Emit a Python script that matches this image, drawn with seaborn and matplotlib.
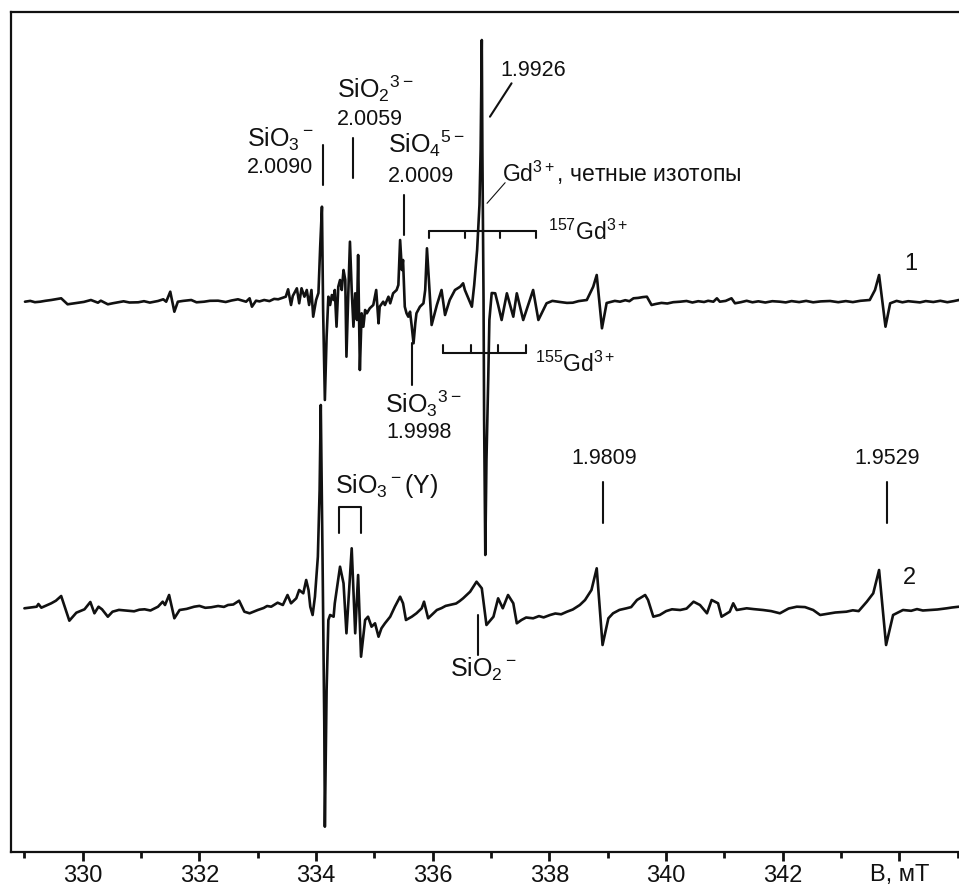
import matplotlib
matplotlib.use("Agg")
import matplotlib.pyplot as plt
import seaborn as sns
import pandas as pd

# EPR spectra, field in mT, signal in arb. units (relative to own baseline)
field_1 = [329.01, 329.27, 329.46, 329.63, 329.74, 329.92, 330.14, 330.26, 330.31, 330.43,
           330.61, 330.95, 331.29, 331.38, 331.43, 331.50, 331.57, 331.63, 331.86, 332.08,
           332.32, 332.66, 332.80, 332.86, 332.90, 332.97, 333.11, 333.35, 333.48, 333.52,
           333.57, 333.60, 333.67, 333.71, 333.75, 333.80, 333.84, 333.88, 333.92, 333.95,
           334.00, 334.04, 334.07, 334.10, 334.12, 334.15, 334.18, 334.21, 334.24, 334.27,
           334.30, 334.32, 334.35, 334.38, 334.41, 334.44, 334.47, 334.50, 334.52, 334.55,
           334.58, 334.61, 334.64, 334.67, 334.70, 334.72, 334.75, 334.78, 334.81, 334.84,
           334.87, 334.92, 334.98, 335.03, 335.07, 335.09, 335.15, 335.18, 335.24, 335.27,
           335.32, 335.38, 335.41, 335.44, 335.47, 335.49, 335.52, 335.55, 335.58, 335.61,
           335.64, 335.67, 335.70, 335.72, 335.78, 335.84, 335.87, 335.90, 335.98, 336.07,
           336.15, 336.21, 336.29, 336.38, 336.47, 336.52, 336.55, 336.61, 336.67, 336.71,
           336.76, 336.80, 336.82, 336.84, 336.85, 336.87, 336.88, 336.90, 336.92, 336.95,
           336.97, 337.01, 337.07, 337.12, 337.18, 337.27, 337.38, 337.44, 337.55, 337.72,
           337.81, 337.95, 338.18, 338.40, 338.64, 338.75, 338.81, 338.90, 338.98, 339.21,
           339.44, 339.67, 339.75, 340.24, 340.81, 340.87, 340.92, 341.12, 341.18, 341.95,
           342.81, 343.49, 343.58, 343.65, 343.76, 343.84, 344.24, 345.02,
           # baseline wiggles
           329.10, 329.18, 329.36, 329.83, 330.02, 330.52, 330.70, 330.80, 331.05, 331.15,
           331.72, 331.95, 332.18, 332.45, 332.55, 333.03, 333.20, 333.28, 338.05, 338.30,
           338.50, 339.05, 339.12, 339.30, 339.37, 339.52, 339.60, 339.82, 339.92, 340.02,
           340.12, 340.35, 340.45, 340.55, 340.65, 340.72, 341.02, 341.28, 341.38, 341.48,
           341.58, 341.70, 341.82, 342.05, 342.15, 342.28, 342.40, 342.52, 342.65, 342.95,
           343.08, 343.20, 343.33, 343.95, 344.05, 344.15, 344.35, 344.45, 344.58, 344.70,
           344.82, 344.93]
signal_1 = [0, 0, 1.7, 3.4, -2.6, -1, 1.7, -1, 1, -2.6,
            -0.6, -0.6, 0.7, 2.4, 0, 10, -10, 0, 1.7, 0,
            1, 2.4, 0, 3.4, -5, 1, 1.7, 2.4, 5, 12.4,
            -3.3, 5.7, 13.4, -1.6, 13.4, 5, 11.7, -3.3, 11.7, -15,
            1.7, 8.7, 55, 95, -8.3, -98.3, -35, 5, -3.3, 6.7,
            1.7, 11.7, -25, 15, 21.7, 11.7, 31.7, 21.7, -55, 5,
            60, 11.7, -25, 8.4, -18.3, 46.7, -68.3, -11.6, -25, -8.3,
            -11.6, -6.6, -3.3, 11.7, -21.6, -5, 0, -3.3, 5, -1.6,
            8.4, 11.7, 16.7, 61.7, 31.7, 41.7, -5, -11.6, -15, -10,
            -25, -41.6, -21.6, -11.6, -5, -1.6, 11.7, 53.4, -23.3, -3.3,
            11.7, -13.3, 1.7, 11.7, 15, 18.4, 11.7, 3.4, -5, 16.7,
            51.7, 96.7, 151.7, 261.7, 151.7, 1.7, -118.3, -253.3, -158.3, -78.3,
            -18.3, 8.7, 8.4, -3.3, -18.3, 8.4, -15, 8.4, -18.3, 11.7,
            -18.3, -1.6, -0.3, -1, 1.7, 15, 26.7, -26.6, -1.3, 0,
            3.4, 5, -3.3, 0, 0, 3.4, 0, 3.4, -1.6, 0,
            0.7, 1.7, 11.7, 26.7, -25, -1.6, 0, 1.7,
            0.8, -0.5, 0.9, -1.8, -0.2, -1.5, 0.4, -0.8, 0.5, -0.9,
            0.8, -0.6, 0.9, -0.3, 1.2, 0.3, 0.6, 2.8, 0.8, -1.2,
            0.6, -0.3, 0.8, 1.5, 0.5, 3.8, 4.6, -2.3, -1.2, -1.8,
            -0.5, 0.7, -0.8, 0.5, -0.3, 0.9, 0.8, -0.5, 0.9, -0.6,
            0.4, -0.8, 0.5, -0.7, 0.6, -0.4, 0.8, -0.6, 0.3, -0.5,
            0.6, -0.4, 0.9, 0.8, -0.6, 0.5, -0.7, 0.6, -0.3, 0.9,
            -0.5, 0.6]

field_2 = [329.00, 329.21, 329.24, 329.29, 329.46, 329.54, 329.63, 329.77, 329.89, 330.03,
           330.13, 330.20, 330.27, 330.33, 330.43, 330.51, 330.77, 331.06, 331.29, 331.37,
           331.41, 331.48, 331.57, 331.66, 331.91, 332.20, 332.49, 332.68, 332.77, 332.86,
           333.00, 333.23, 333.34, 333.43, 333.51, 333.57, 333.66, 333.71, 333.78, 333.83,
           333.87, 333.90, 333.94, 333.98, 334.03, 334.06, 334.08, 334.11, 334.14, 334.15,
           334.18, 334.21, 334.24, 334.30, 334.32, 334.41, 334.47, 334.52, 334.61, 334.67,
           334.72, 334.77, 334.84, 334.89, 334.95, 335.01, 335.07, 335.12, 335.18, 335.27,
           335.35, 335.44, 335.49, 335.54, 335.64, 335.72, 335.81, 335.85, 335.92, 336.07,
           336.29, 336.52, 336.64, 336.75, 336.84, 336.92, 337.04, 337.12, 337.20, 337.29,
           337.38, 337.44, 337.52, 337.72, 338.01, 338.30, 338.52, 338.61, 338.72, 338.81,
           338.91, 339.01, 339.09, 339.32, 339.50, 339.64, 339.69, 339.78, 339.89, 340.24,
           340.47, 340.58, 340.70, 340.78, 340.89, 340.95, 341.09, 341.15, 341.21, 341.38,
           341.66, 341.95, 342.24, 342.52, 342.64, 342.81, 343.09, 343.44, 343.55, 343.65,
           343.77, 343.89, 344.06, 344.52, 344.81, 345.02,
           # baseline wiggles
           330.62, 330.88, 330.97, 331.16, 331.78, 332.00, 332.10, 332.32, 332.42, 332.58,
           333.10, 333.16, 336.15, 336.22, 336.40, 336.46, 337.60, 337.82, 337.90, 338.10,
           338.20, 338.40, 339.20, 339.40, 340.00, 340.10, 340.35, 341.50, 341.80, 342.10,
           342.38, 342.90, 343.20, 343.30, 344.20, 344.30, 344.40, 344.65, 344.90]
signal_2 = [0, 1.6, 4.3, 0.6, 5, 7.6, 12.3, -12.4, -4.4, -1,
            6.3, -5, 1.6, -1, -8.4, -3.4, -2.4, -1, 1.6, 6.6,
            3.3, 13.3, -10, -1.7, 1.6, 1, 3.3, 7.6, -3.4, -5,
            -1.7, 1.6, 5.6, 3.3, 13.3, 5, 10, 18.3, 15, 28.3,
            18.3, 1.6, -6.7, 11.6, 51.6, 118.3, 203.3, 51.6, -115, -218.4,
            -81.7, -11.7, -6.7, -8.4, 5, 41.6, 25, -25, 60, -25,
            33.3, -48.4, -11.7, -8.4, -18.4, -15, -28.4, -20, -15, -8.4,
            1.6, 11.6, 5, -11.7, -8.4, -5, 0, 6.6, -10, -1.7,
            3.3, 10, 16.6, 26.6, 20, -16.7, -8.4, 10, 0, 13.3,
            5, -15, -11.7, -10, -6.7, -3.4, 3.3, 8.3, 18.3, 40,
            -36.7, -10, -5, 0, 8.3, 13.3, 8.3, -8.4, -6.7, -1.7,
            6.6, 3.3, -5, 8.3, 5, -8.4, -3.4, 5, -1.7, 0,
            -1.7, -5, 1.6, -1.7, -6.7, -5, -3.4, 6.6, 15, 38.3,
            -36.7, -6.7, -1.7, -1.7, 0, 1.6,
            -1.6, -3.0, -1.4, -2.2, -0.6, 2.4, 0.5, 2.3, 1.4, 3.8,
            0.3, 2.3, 0.2, 2.4, 4.8, 7.2, -9.2, -7.8, -9.1, -5.2,
            -6.0, -1.2, -1.6, 1.2, -2.8, -1.0, -0.3, -0.8, -2.8, -0.2,
            1.2, -4.2, -2.0, -2.8, -2.5, -0.8, -2.2, -1.2, 0.8]

# vertical shift of the two traces
offset_1 = 550.3
offset_2 = 243.7

major_ticks = [330, 332, 334, 336, 338, 340, 342, 344]
major_labels = ["330", "332", "334", "336", "338", "340", "342", "B, мТ"]
minor_ticks = [329, 331, 333, 335, 337, 339, 341, 343, 345]

sns.set_style("ticks")
plt.rcParams["font.family"] = ["Liberation Sans", "DejaVu Sans"]
plt.rcParams["mathtext.fontset"] = "custom"
plt.rcParams["mathtext.rm"] = "Liberation Sans"
plt.rcParams["mathtext.it"] = "Liberation Sans:italic"
plt.rcParams["mathtext.bf"] = "Liberation Sans:bold"

df = pd.concat([
    pd.DataFrame({"field": field_1, "signal": [s + offset_1 for s in signal_1], "spectrum": 1}),
    pd.DataFrame({"field": field_2, "signal": [s + offset_2 for s in signal_2], "spectrum": 2}),
])
df = df.sort_values(["spectrum", "field"])

ink = "#111111"
fig = plt.figure(figsize=(9.59, 8.92), dpi=100)
ax = fig.add_axes([11 / 959, 40 / 892, 948 / 959, 840 / 892])

sns.lineplot(data=df, x="field", y="signal", units="spectrum", estimator=None,
             sort=False, color=ink, lw=1.9, legend=False, ax=ax)

ax.set_xlim(328.77, 345.02)
ax.set_ylim(0, 840)
ax.set_xlabel("")
ax.set_ylabel("")
ax.set_yticks([])
ax.set_xticks(major_ticks)
ax.set_xticklabels(major_labels)
ax.set_xticks(minor_ticks, minor=True)
ax.tick_params(axis="x", which="major", length=6.5, width=2, direction="out",
               labelsize=17, pad=2.5, colors=ink)
ax.tick_params(axis="x", which="minor", length=4, width=2, direction="out", colors=ink)
ax.spines["right"].set_visible(False)
for s in ["left", "top", "bottom"]:
    ax.spines[s].set_linewidth(1.6)
    ax.spines[s].set_color(ink)

# labels
big = 18
num = 15.5
ax.text(332.81, 705, r"SiO$_3{}^-$", fontsize=big, color=ink)
ax.text(332.81, 678.7, "2.0090", fontsize=num, color=ink)
ax.text(334.35, 753.7, r"SiO$_2{}^{3-}$", fontsize=big, color=ink)
ax.text(334.35, 727, "2.0059", fontsize=num, color=ink)
ax.text(335.23, 699, r"SiO$_4{}^{5-}$", fontsize=big, color=ink)
ax.text(335.23, 670.3, "2.0009", fontsize=num, color=ink)
ax.text(335.18, 439, r"SiO$_3{}^{3-}$", fontsize=big, color=ink)
ax.text(335.21, 414, "1.9998", fontsize=num, color=ink)
ax.text(337.16, 776, "1.9926", fontsize=num, color=ink)
ax.text(337.18, 670.3, r"Gd$^{3+}$, четные изотопы", fontsize=16.5, color=ink)
ax.text(337.97, 612, r"$^{157}$Gd$^{3+}$", fontsize=16.5, color=ink)
ax.text(337.75, 480, r"$^{155}$Gd$^{3+}$", fontsize=16.5, color=ink)
ax.text(344.09, 582, "1", fontsize=17, color=ink)
ax.text(344.06, 268, "2", fontsize=17, color=ink)
ax.text(338.93, 388, "1.9809", fontsize=num, color=ink, ha="center")
ax.text(343.79, 388, "1.9529", fontsize=num, color=ink, ha="center")
ax.text(334.32, 359, r"SiO$_3{}^-$(Y)", fontsize=big, color=ink)
ax.text(336.30, 175, r"SiO$_2{}^-$", fontsize=big, color=ink)

# marker lines
markers = [(334.12, 667, 707), (334.63, 674, 714), (335.50, 617, 657), (335.65, 467, 509),
           (338.91, 329.3, 370.3), (343.78, 329.3, 370.3), (336.77, 197, 237)]
for x, y0, y1 in markers:
    ax.plot([x, x], [y0, y1], color=ink, lw=1.5)

ax.plot([336.98, 337.35], [735.3, 768.7], color=ink, lw=1.5)
ax.plot([336.93, 337.24], [648.7, 669.3], color=ink, lw=0.8)

# hyperfine brackets
gd157 = [335.94, 336.55, 337.16, 337.77]
gd155 = [336.18, 336.65, 337.12, 337.59]
ax.plot([gd157[0], gd157[-1]], [621.3, 621.3], color=ink, lw=1.5)
for x in gd157:
    ax.plot([x, x], [621.3, 613.7], color=ink, lw=1.5)
ax.plot([gd155[0], gd155[-1]], [498.7, 498.7], color=ink, lw=1.5)
for x in gd155:
    ax.plot([x, x], [498.7, 506.5], color=ink, lw=1.5)
ax.plot([334.39, 334.39, 334.77, 334.77], [318.7, 345.3, 345.3, 318.7], color=ink, lw=1.5)

fig.savefig("out.png", dpi=100)
